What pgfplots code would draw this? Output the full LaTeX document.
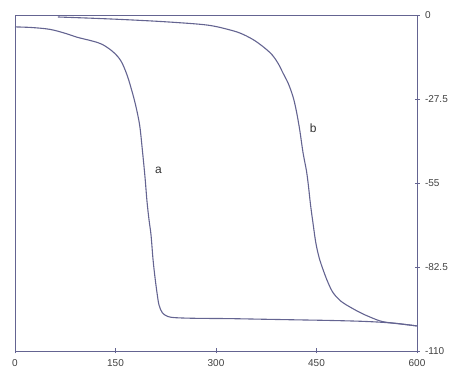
\documentclass[border=0pt]{standalone}
\usepackage{pgfplots}
\pgfplotsset{compat=1.18}
\usepackage{fontspec}
\setmainfont{Liberation Sans}
\definecolor{ink}{RGB}{100,100,145}
\begin{document}
\begin{tikzpicture}
\begin{axis}[
  name=ax,
  scale only axis,
  width=402pt, height=336pt,
  xmin=0, xmax=600, ymin=-110, ymax=0,
  axis line style={ink, line width=0.9pt},
  xtick={0,150,300,450,600},
  xtick pos=bottom,
  ytick={0,-27.5,-55,-82.5,-110},
  yticklabels={0,-27.5,-55,-82.5,-110},
  ytick pos=right,
  yticklabel pos=right,
  tick align=center,
  major tick length=5pt,
  tick style={ink, line width=0.9pt},
  xticklabel style={font=\fontsize{10}{11}\selectfont, color=black!75, yshift=-2pt},
  yticklabel style={font=\fontsize{10}{11}\selectfont, color=black!75, xshift=2pt},
  /pgf/number format/assume math mode=true,
  clip=false,
]
\addplot[ink, line width=1.1pt, smooth, tension=0.55] coordinates {
(0,-3.9) (25,-4.1) (52,-4.7) (75,-6.0) (93,-7.3) (115,-8.5) (130,-9.6)
(146,-12.0) (158,-15.0) (167,-19.5) (174,-24.5) (180,-29.5) (186,-36)
(190,-44) (194,-53) (197,-61) (200,-67) (203,-72) (206,-80) (209,-86)
(212,-91) (215,-95) (220,-97.5) (228,-98.7) (240,-99.1) (270,-99.3)
(320,-99.4) (370,-99.6) (420,-99.8) (470,-100.0) (520,-100.3) (560,-100.8) (600,-101.8)
};
\addplot[ink, line width=1.1pt, smooth, tension=0.55] coordinates {
(64,-0.65) (120,-1.1) (172,-1.6) (230,-2.3) (287,-3.3) (321,-4.9) (340,-6.3)
(360,-8.7) (381,-12.4) (392,-15.6) (400,-19.0) (408,-22.5) (415,-26.8)
(420,-31.5) (425,-37.7) (430,-45.2) (435,-51) (438,-56) (441,-62) (445,-68.5)
(449,-74.6) (454,-79.5) (460,-83.5) (467,-87.5) (475,-91.0) (487,-93.8)
(500,-95.6) (515,-97.4) (530,-98.9) (549,-100.4) (575,-101.1) (600,-101.8)
};
\node[font=\fontsize{12}{13}\selectfont, color=black!80] at (axis cs:214,-51) {a};
\node[font=\fontsize{12}{13}\selectfont, color=black!80] at (axis cs:445,-37) {b};
\end{axis}
\path ([shift={(-15pt,15pt)}]ax.north west) rectangle ([shift={(46pt,-21pt)}]ax.south east);
\end{tikzpicture}
\end{document}
